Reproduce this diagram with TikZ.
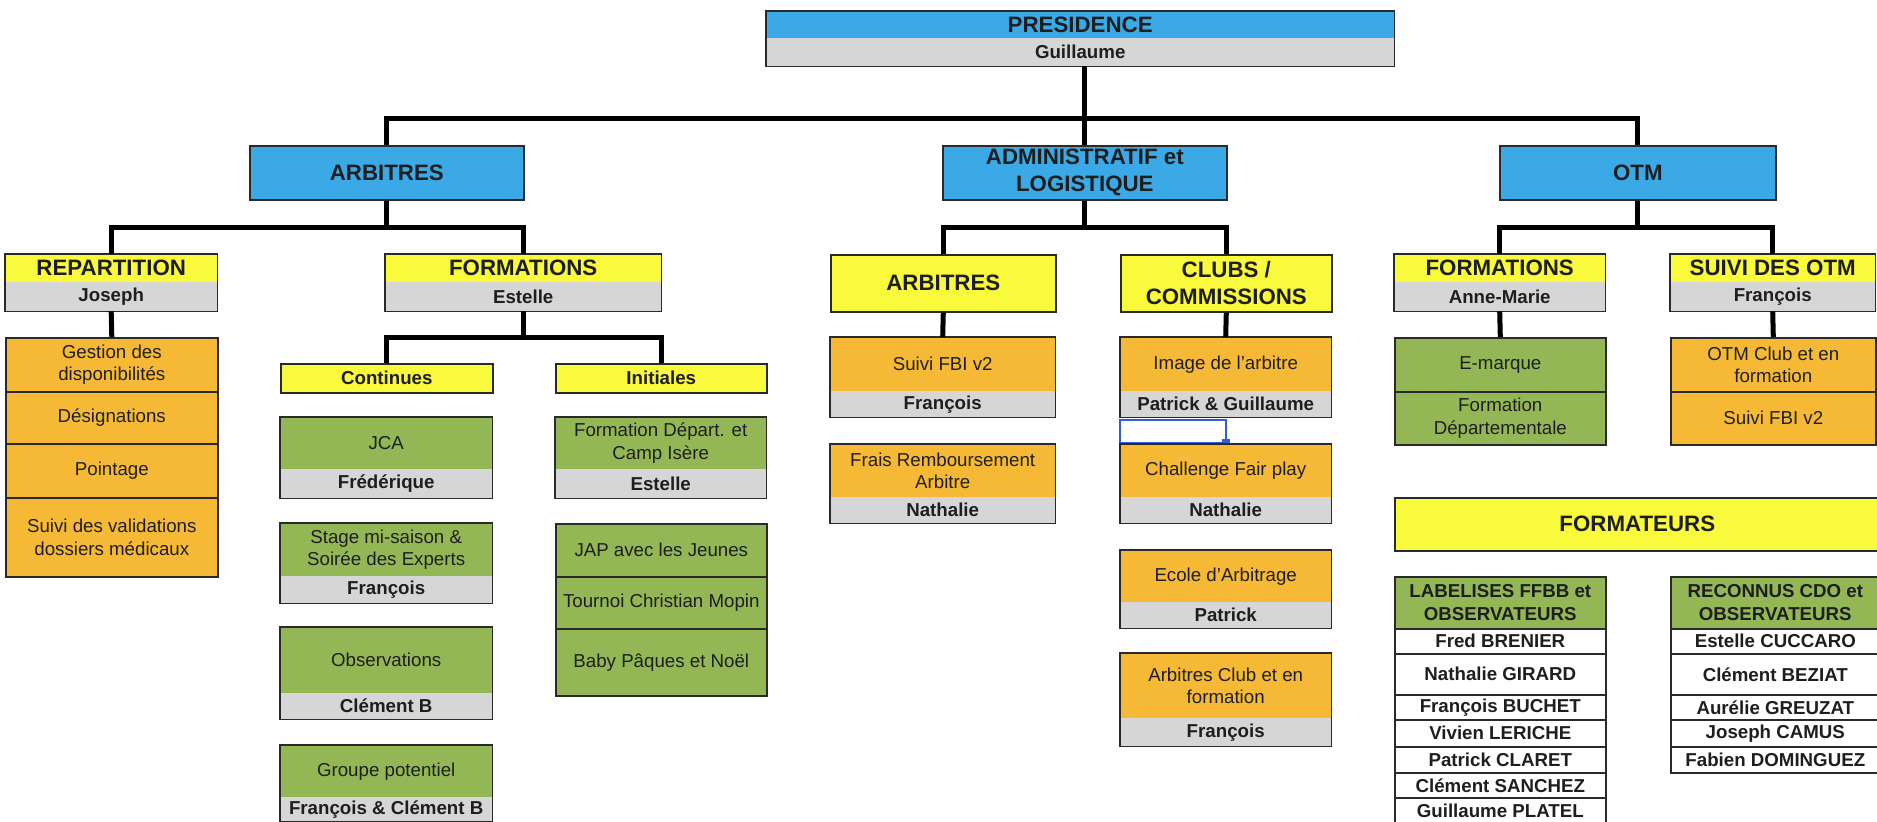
\documentclass[tikz,border=0pt]{standalone}
\usepackage{fontspec}
\setmainfont{Liberation Sans}
\usepackage{tikz}
\definecolor{boxblue}{HTML}{3BA9E6}
\definecolor{boxyellow}{HTML}{FAFA3C}
\definecolor{boxgrey}{HTML}{D6D6D6}
\definecolor{boxorange}{HTML}{F6B935}
\definecolor{boxgreen}{HTML}{94B755}
\definecolor{edge}{HTML}{2A2A2A}
\definecolor{ink}{HTML}{1E1E1E}
\definecolor{selblue}{HTML}{2F5FD0}
\newcommand\txtfont{\fontsize{18.7}{22.5}\selectfont}
\newcommand\hdfont{\fontsize{22.3}{27}\selectfont\bfseries}
\tikzset{%
  part/.style    = {anchor=north west, inner sep=0pt, align=center, text=ink},%
  framed/.style  = {part, draw=edge, line width=1.6pt},%
  outline/.style = {draw=edge, line width=1.6pt},%
  sz/.style 2 args = {minimum width=#1pt, minimum height=#2pt},%
  head/.style    = {font=\hdfont},%
  plain/.style   = {font=\txtfont},%
  who/.style     = {font=\txtfont\bfseries, fill=boxgrey},%
  link/.style    = {draw=black, line width=5pt}%
}

\begin{document}
\begin{tikzpicture}[x=1pt,y=-1pt]
	\useasboundingbox (0,0) rectangle (1877,822);
	% presidence
	\node[part, sz={628}{27}, head, fill=boxblue] (pres) at (766,11) {PRESIDENCE};
	\node[part, sz={628}{28}, who] (presWho) at (766,38) {Guillaume};
	\draw[outline] (pres.north west) rectangle (presWho.south east);
	% poles
	\node[framed, sz={274}{54}, head, fill=boxblue] (arbTop) at (249,145) {ARBITRES};
	\node[framed, sz={284}{54}, head, fill=boxblue] (admin) at (942,145) {ADMINISTRATIF et\\LOGISTIQUE};
	\node[framed, sz={276}{54}, head, fill=boxblue] (otm) at (1499,145) {OTM};
	% commissions
	\node[part, sz={212}{28}, head, fill=boxyellow] (repart) at (5,254) {REPARTITION};
	\node[part, sz={212}{29}, who] (repartWho) at (5,282) {Joseph};
	\draw[outline] (repart.north west) rectangle (repartWho.south east);
	\node[part, sz={276}{28}, head, fill=boxyellow] (formArb) at (385,254) {FORMATIONS};
	\node[part, sz={276}{29}, who] (formArbWho) at (385,282) {Estelle};
	\draw[outline] (formArb.north west) rectangle (formArbWho.south east);
	\node[framed, sz={225}{57}, head, fill=boxyellow] (arbAdm) at (830,254) {ARBITRES};
	\node[framed, sz={211}{57}, head, fill=boxyellow] (clubs) at (1120,254) {CLUBS /\\COMMISSIONS};
	\node[part, sz={211}{28}, head, fill=boxyellow] (formOtm) at (1394,254) {FORMATIONS};
	\node[part, sz={211}{29}, who] (formOtmWho) at (1394,282) {Anne-Marie};
	\draw[outline] (formOtm.north west) rectangle (formOtmWho.south east);
	\node[part, sz={205}{28}, head, fill=boxyellow] (suiviOtm) at (1670,254) {SUIVI DES OTM};
	\node[part, sz={205}{29}, who] (suiviOtmWho) at (1670,282) {François};
	\draw[outline] (suiviOtm.north west) rectangle (suiviOtmWho.south east);
	% repartition
	\node[framed, sz={212}{54}, plain, fill=boxorange] (gestion) at (5,337) {Gestion des\\disponibilités};
	\node[framed, sz={212}{52}, plain, fill=boxorange] (design) at (5,391) {Désignations};
	\node[framed, sz={212}{54}, plain, fill=boxorange] (pointage) at (5,443) {Pointage};
	\node[framed, sz={212}{79}, plain, fill=boxorange] (medic) at (5,497) {Suivi des validations\\dossiers médicaux};
	% formations arbitres
	\node[framed, sz={212}{29}, font=\txtfont\bfseries, fill=boxyellow] (cont) at (280,363) {Continues};
	\node[framed, sz={211}{29}, font=\txtfont\bfseries, fill=boxyellow] (init) at (555,363) {Initiales};
	\node[part, sz={212}{52}, plain, fill=boxgreen] (jca) at (280,417) {JCA};
	\node[part, sz={212}{29}, who] (jcaWho) at (280,469) {Frédérique};
	\draw[outline] (jca.north west) rectangle (jcaWho.south east);
	\node[part, sz={212}{53}, plain, fill=boxgreen] (stage) at (280,523) {Stage mi-saison \&\\Soirée des Experts};
	\node[part, sz={212}{27}, who] (stageWho) at (280,576) {François};
	\draw[outline] (stage.north west) rectangle (stageWho.south east);
	\node[part, sz={212}{66}, plain, fill=boxgreen] (obs) at (280,627) {Observations};
	\node[part, sz={212}{26}, who] (obsWho) at (280,693) {Clément B};
	\draw[outline] (obs.north west) rectangle (obsWho.south east);
	\node[part, sz={212}{52}, plain, fill=boxgreen] (groupe) at (280,745) {Groupe potentiel};
	\node[part, sz={212}{24}, who] (groupeWho) at (280,797) {François \& Clément B};
	\draw[outline] (groupe.north west) rectangle (groupeWho.south east);
	\node[part, sz={211}{52}, plain, fill=boxgreen] (depart) at (555,417) {Formation Départ. et\\Camp Isère};
	\node[part, sz={211}{29}, who] (departWho) at (555,469) {Estelle};
	\draw[outline] (depart.north west) rectangle (departWho.south east);
	\node[framed, sz={211}{53}, plain, fill=boxgreen] (jap) at (555,523) {JAP avec les Jeunes};
	\node[framed, sz={211}{52}, plain, fill=boxgreen] (tournoi) at (555,576) {Tournoi Christian Mopin};
	\node[framed, sz={211}{67}, plain, fill=boxgreen] (baby) at (555,628) {Baby Pâques et Noël};
	% administratif
	\node[part, sz={225}{54}, plain, fill=boxorange] (fbiAdm) at (830,337) {Suivi FBI v2};
	\node[part, sz={225}{26}, who] (fbiAdmWho) at (830,391) {François};
	\draw[outline] (fbiAdm.north west) rectangle (fbiAdmWho.south east);
	\node[part, sz={225}{53}, plain, fill=boxorange] (frais) at (830,444) {Frais Remboursement\\Arbitre};
	\node[part, sz={225}{26}, who] (fraisWho) at (830,497) {Nathalie};
	\draw[outline] (frais.north west) rectangle (fraisWho.south east);
	\node[part, sz={211}{54}, plain, fill=boxorange] (image) at (1120,337) {Image de l'arbitre};
	\node[part, sz={211}{26}, who] (imageWho) at (1120,391) {Patrick \& Guillaume};
	\draw[outline] (image.north west) rectangle (imageWho.south east);
	\draw[selblue, line width=2pt] (1120,420) rectangle (1226,443);
	\fill[selblue] (1222,439) rectangle (1230,447);
	\node[part, sz={211}{53}, plain, fill=boxorange] (fair) at (1120,444) {Challenge Fair play};
	\node[part, sz={211}{26}, who] (fairWho) at (1120,497) {Nathalie};
	\draw[outline] (fair.north west) rectangle (fairWho.south east);
	\node[part, sz={211}{52}, plain, fill=boxorange] (ecole) at (1120,550) {Ecole d'Arbitrage};
	\node[part, sz={211}{26}, who] (ecoleWho) at (1120,602) {Patrick};
	\draw[outline] (ecole.north west) rectangle (ecoleWho.south east);
	\node[part, sz={211}{65}, plain, fill=boxorange] (club) at (1120,653) {Arbitres Club et en\\formation};
	\node[part, sz={211}{28}, who] (clubWho) at (1120,718) {François};
	\draw[outline] (club.north west) rectangle (clubWho.south east);
	% otm
	\node[framed, sz={211}{54}, plain, fill=boxgreen] (emarque) at (1394,337) {E-marque};
	\node[framed, sz={211}{53}, plain, fill=boxgreen] (formDep) at (1394,391) {Formation\\Départementale};
	\node[framed, sz={205}{54}, plain, fill=boxorange] (otmClub) at (1670,337) {OTM Club et en\\formation};
	\node[framed, sz={205}{53}, plain, fill=boxorange] (fbiOtm) at (1670,391) {Suivi FBI v2};
	% formateurs
	\node[framed, sz={485}{53}, head, fill=boxyellow] (formateurs) at (1394,497) {FORMATEURS};
	\node[framed, sz={211}{52}, font=\txtfont\bfseries, fill=boxgreen] (label) at (1394,576) {LABELISES FFBB et\\OBSERVATEURS};
	\node[framed, sz={211}{25}, font=\txtfont\bfseries, fill=white] (l1) at (1394,628) {Fred BRENIER};
	\node[framed, sz={211}{41}, font=\txtfont\bfseries, fill=white] (l2) at (1394,653) {Nathalie GIRARD};
	\node[framed, sz={211}{25}, font=\txtfont\bfseries, fill=white] (l3) at (1394,694) {François BUCHET};
	\node[framed, sz={211}{27}, font=\txtfont\bfseries, fill=white] (l4) at (1394,719) {Vivien LERICHE};
	\node[framed, sz={211}{26}, font=\txtfont\bfseries, fill=white] (l5) at (1394,746) {Patrick CLARET};
	\node[framed, sz={211}{25}, font=\txtfont\bfseries, fill=white] (l6) at (1394,772) {Clément SANCHEZ};
	\node[framed, sz={211}{26}, font=\txtfont\bfseries, fill=white] (l7) at (1394,797) {Guillaume PLATEL};
	\node[framed, sz={209}{52}, font=\txtfont\bfseries, fill=boxgreen] (reconnus) at (1670,576) {RECONNUS CDO et\\OBSERVATEURS};
	\node[framed, sz={209}{25}, font=\txtfont\bfseries, fill=white] (r1) at (1670,628) {Estelle CUCCARO};
	\node[framed, sz={209}{41}, font=\txtfont\bfseries, fill=white] (r2) at (1670,653) {Clément BEZIAT};
	\node[framed, sz={209}{25}, font=\txtfont\bfseries, fill=white] (r3) at (1670,694) {Aurélie GREUZAT};
	\node[framed, sz={209}{27}, font=\txtfont\bfseries, fill=white] (r4) at (1670,719) {Joseph CAMUS};
	\node[framed, sz={209}{26}, font=\txtfont\bfseries, fill=white] (r5) at (1670,746) {Fabien DOMINGUEZ};
	% connectors
	\coordinate (topBar) at (1084,118);
	\draw[link] (arbTop.north) |- (topBar) -| (otm.north);
	\draw[link] (admin.north |- presWho.south) -- (admin.north);
	\draw[link] (arbTop.south) -- ++(0,27) coordinate (arbBar);
	\draw[link] (repart.north) |- (arbBar) -| (formArb.north);
	\draw[link] (admin.south) -- ++(0,27) coordinate (admBar);
	\draw[link] (arbAdm.north) |- (admBar) -| (clubs.north);
	\draw[link] (otm.south) -- ++(0,27) coordinate (otmBar);
	\draw[link] (formOtm.north) |- (otmBar) -| (suiviOtm.north);
	\draw[link] (formArbWho.south) -- ++(0,26) coordinate (formBar);
	\draw[link] (cont.north) |- (formBar) -| (init.north);
	\draw[link] (repartWho.south) -- (gestion.north);
	\draw[link] (arbAdm.south) -- (fbiAdm.north);
	\draw[link] (clubs.south) -- (image.north);
	\draw[link] (formOtmWho.south) -- (emarque.north);
	\draw[link] (suiviOtmWho.south) -- (otmClub.north);
\end{tikzpicture}
\end{document}
